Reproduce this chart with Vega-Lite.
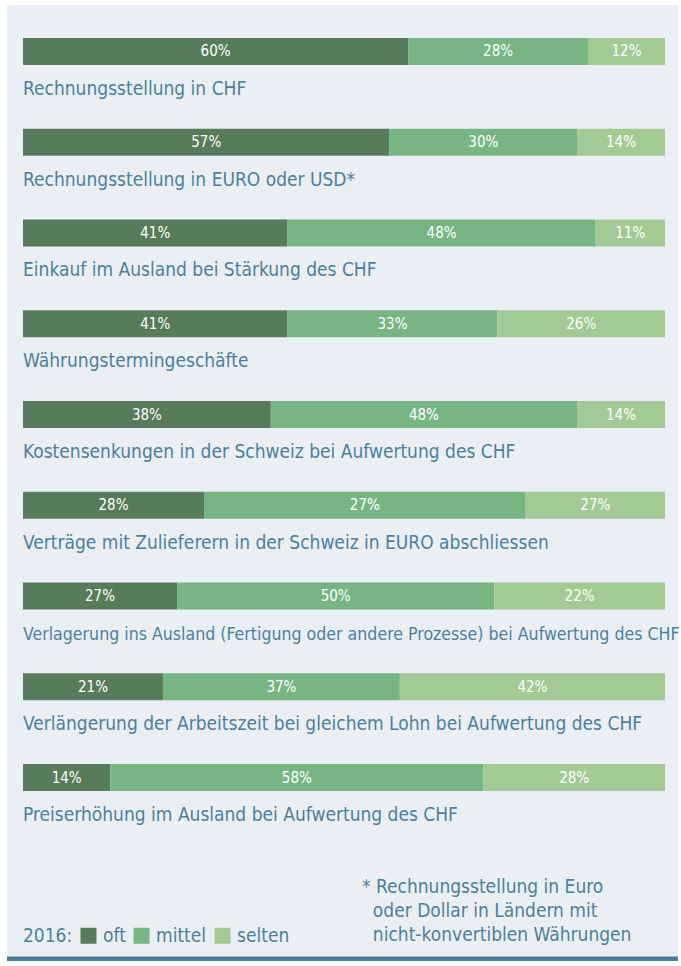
{
  "$schema": "https://vega.github.io/schema/vega-lite/v6.json",
  "autosize": {"type": "none"},
  "padding": {"left": 7, "top": 5, "right": 3, "bottom": 0},
  "width": 671,
  "height": 956,
  "background": "#ffffff",
  "config": {
    "view": {"fill": "#EAEFF6", "stroke": "#4A7D95", "strokeWidth": 9, "strokeDash": [0, 1627, 671, 960], "strokeCap": "butt"},
    "font": "DejaVu Sans Condensed, sans-serif"
  },
  "title": {
    "text": ["* Rechnungsstellung in Euro", "\u200b\u00a0\u00a0oder Dollar in Ländern mit", "\u200b\u00a0\u00a0nicht-konvertiblen Währungen"],
    "orient": "bottom",
    "anchor": "start",
    "align": "left",
    "dx": 355,
    "offset": -83,
    "fontSize": 19,
    "fontWeight": "normal",
    "color": "#4D7F9A",
    "lineHeight": 24,
    "font": "DejaVu Sans Condensed, sans-serif"
  },
  "data": {
    "values": [
      {"item": "Rechnungsstellung in CHF", "row": 1, "cat": "oft", "ord": 1, "share": 60, "label": "60%"},
      {"item": "Rechnungsstellung in CHF", "row": 1, "cat": "mittel", "ord": 2, "share": 28, "label": "28%"},
      {"item": "Rechnungsstellung in CHF", "row": 1, "cat": "selten", "ord": 3, "share": 12, "label": "12%"},
      {"item": "Rechnungsstellung in EURO oder USD*", "row": 2, "cat": "oft", "ord": 1, "share": 57.1, "label": "57%"},
      {"item": "Rechnungsstellung in EURO oder USD*", "row": 2, "cat": "mittel", "ord": 2, "share": 29.2, "label": "30%"},
      {"item": "Rechnungsstellung in EURO oder USD*", "row": 2, "cat": "selten", "ord": 3, "share": 13.7, "label": "14%"},
      {"item": "Einkauf im Ausland bei Stärkung des CHF", "row": 3, "cat": "oft", "ord": 1, "share": 41.2, "label": "41%"},
      {"item": "Einkauf im Ausland bei Stärkung des CHF", "row": 3, "cat": "mittel", "ord": 2, "share": 48, "label": "48%"},
      {"item": "Einkauf im Ausland bei Stärkung des CHF", "row": 3, "cat": "selten", "ord": 3, "share": 10.8, "label": "11%"},
      {"item": "Währungstermingeschäfte", "row": 4, "cat": "oft", "ord": 1, "share": 41.2, "label": "41%"},
      {"item": "Währungstermingeschäfte", "row": 4, "cat": "mittel", "ord": 2, "share": 32.7, "label": "33%"},
      {"item": "Währungstermingeschäfte", "row": 4, "cat": "selten", "ord": 3, "share": 26.1, "label": "26%"},
      {"item": "Kostensenkungen in der Schweiz bei Aufwertung des CHF", "row": 5, "cat": "oft", "ord": 1, "share": 38.6, "label": "38%"},
      {"item": "Kostensenkungen in der Schweiz bei Aufwertung des CHF", "row": 5, "cat": "mittel", "ord": 2, "share": 47.7, "label": "48%"},
      {"item": "Kostensenkungen in der Schweiz bei Aufwertung des CHF", "row": 5, "cat": "selten", "ord": 3, "share": 13.7, "label": "14%"},
      {"item": "Verträge mit Zulieferern in der Schweiz in EURO abschliessen", "row": 6, "cat": "oft", "ord": 1, "share": 28.2, "label": "28%"},
      {"item": "Verträge mit Zulieferern in der Schweiz in EURO abschliessen", "row": 6, "cat": "mittel", "ord": 2, "share": 50.1, "label": "27%"},
      {"item": "Verträge mit Zulieferern in der Schweiz in EURO abschliessen", "row": 6, "cat": "selten", "ord": 3, "share": 21.7, "label": "27%"},
      {"item": "Verlagerung ins Ausland (Fertigung oder andere Prozesse) bei Aufwertung des CHF", "row": 7, "cat": "oft", "ord": 1, "share": 24, "label": "27%"},
      {"item": "Verlagerung ins Ausland (Fertigung oder andere Prozesse) bei Aufwertung des CHF", "row": 7, "cat": "mittel", "ord": 2, "share": 49.4, "label": "50%"},
      {"item": "Verlagerung ins Ausland (Fertigung oder andere Prozesse) bei Aufwertung des CHF", "row": 7, "cat": "selten", "ord": 3, "share": 26.6, "label": "22%"},
      {"item": "Verlängerung der Arbeitszeit bei gleichem Lohn bei Aufwertung des CHF", "row": 8, "cat": "oft", "ord": 1, "share": 21.8, "label": "21%"},
      {"item": "Verlängerung der Arbeitszeit bei gleichem Lohn bei Aufwertung des CHF", "row": 8, "cat": "mittel", "ord": 2, "share": 36.9, "label": "37%"},
      {"item": "Verlängerung der Arbeitszeit bei gleichem Lohn bei Aufwertung des CHF", "row": 8, "cat": "selten", "ord": 3, "share": 41.3, "label": "42%"},
      {"item": "Preiserhöhung im Ausland bei Aufwertung des CHF", "row": 9, "cat": "oft", "ord": 1, "share": 13.6, "label": "14%"},
      {"item": "Preiserhöhung im Ausland bei Aufwertung des CHF", "row": 9, "cat": "mittel", "ord": 2, "share": 58.1, "label": "58%"},
      {"item": "Preiserhöhung im Ausland bei Aufwertung des CHF", "row": 9, "cat": "selten", "ord": 3, "share": 28.3, "label": "28%"}
    ]
  },
  "transform": [
    {"stack": "share", "groupby": ["row"], "sort": [{"field": "ord", "order": "ascending"}], "as": ["s0", "s1"]}
  ],
  "encoding": {
    "y": {
      "field": "row", "type": "ordinal", "axis": null,
      "scale": {"range": [33, 786], "paddingInner": 0.7025, "paddingOuter": 0}
    }
  },
  "layer": [
    {
      "mark": {"type": "bar"},
      "encoding": {
        "x": {"field": "s0", "type": "quantitative", "axis": null, "scale": {"domain": [0, 100], "range": [16, 658]}},
        "x2": {"field": "s1"},
        "color": {
          "field": "cat", "type": "nominal",
          "scale": {"domain": ["oft", "mittel", "selten"], "range": ["#587B5C", "#77B585", "#A3CA94"]},
          "legend": {
            "title": "2016:",
            "orient": "none",
            "legendX": 16,
            "legendY": 921,
            "direction": "horizontal",
            "titleOrient": "left",
            "titleFontSize": 19,
            "titleFontWeight": "normal",
            "titleColor": "#4D7F9A",
            "titleFont": "DejaVu Sans Condensed, sans-serif",
            "titlePadding": 6,
            "labelFontSize": 19,
            "labelColor": "#4D7F9A",
            "labelFont": "DejaVu Sans Condensed, sans-serif",
            "labelOffset": 5,
            "symbolType": "square",
            "symbolSize": 256,
            "symbolStrokeWidth": 0,
            "columnPadding": 6
          }
        }
      }
    },
    {
      "transform": [
        {"fold": ["s0", "s1"], "as": ["edge", "pos"]},
        {"aggregate": [{"op": "mean", "field": "pos", "as": "mid"}], "groupby": ["row", "cat", "label"]}
      ],
      "mark": {"type": "text", "color": "#ffffff", "fontSize": 15, "baseline": "middle", "align": "center"},
      "encoding": {
        "x": {"field": "mid", "type": "quantitative"},
        "text": {"field": "label"}
      }
    },
    {
      "transform": [{"filter": "datum.ord === 1"}],
      "mark": {"type": "text", "color": "#4D7F9A", "baseline": "alphabetic", "align": "left", "dy": 43.5},
      "encoding": {
        "x": {"datum": 0},
        "text": {"field": "item"},
        "size": {"condition": {"test": "datum.row === 7", "value": 17.6}, "value": 19}
      }
    }
  ]
}
